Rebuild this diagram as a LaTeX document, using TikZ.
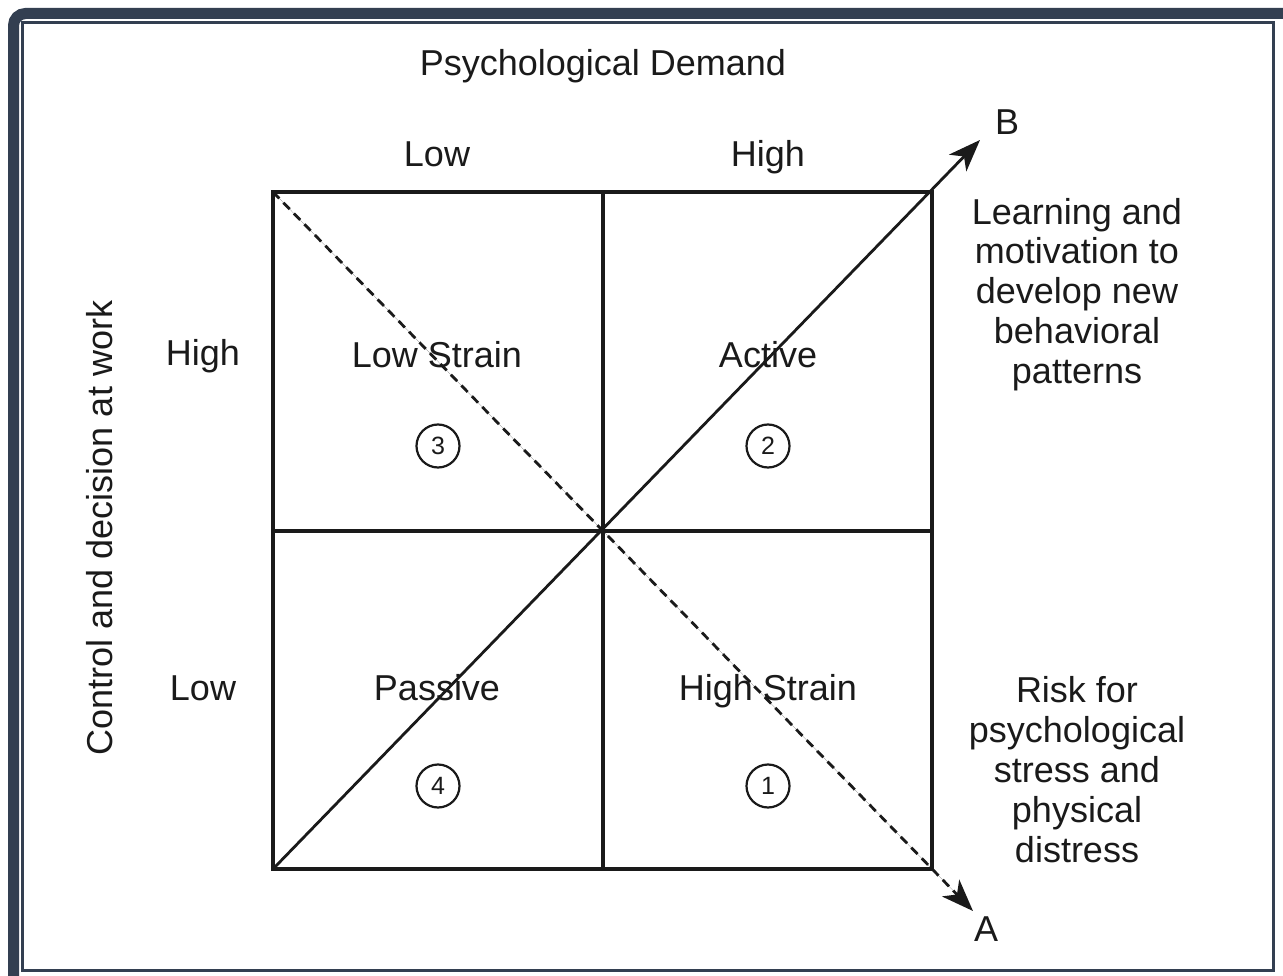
\documentclass[tikz,border=0pt]{standalone}
\usepackage{fontspec}
\setmainfont{Liberation Sans}
\usetikzlibrary{arrows.meta}
\definecolor{frame}{HTML}{333F51}
\definecolor{ink}{HTML}{1A1A1A}
\tikzset{
  lbl/.style={font=\fontsize{36}{40}\selectfont, inner sep=0pt, anchor=base, text=ink},
  side/.style={lbl, align=center},
  num/.style={circle, draw=ink, text=ink, line width=2.2pt, minimum size=43pt, inner sep=0pt, font=\fontsize{25}{25}\selectfont},
  grid/.style={draw=ink, line width=3.2pt},
  arr/.style={draw=ink, fill=ink, line width=2.8pt, -{Stealth[length=32pt,width=24pt,inset=9pt]}},
}
\begin{document}
\begin{tikzpicture}[x=1pt,y=-1pt]
\useasboundingbox (0,0) rectangle (1283,976);
\fill[white] (0,0) rectangle (1283,976);
% frame
\draw[frame, line width=11pt, rounded corners=12pt] (13.5,13.5) -- (1300,13.5) -- (1300,1000) -- (13.5,1000) -- cycle;
\draw[frame, line width=3pt] (22.5,22.5) rectangle (1273.5,970.5);
% grid corners
\coordinate (tl) at (273,192);
\coordinate (tr) at (932,192);
\coordinate (bl) at (273,869);
\coordinate (br) at (932,869);
\coordinate (tm) at (603,192);
\coordinate (bm) at (603,869);
\coordinate (lm) at (273,531);
\coordinate (rm) at (932,531);
\coordinate (B) at (980,140);
\coordinate (A) at (973,911);
\draw[grid, line join=miter] (tl) -- (tr) -- (br) -- (bl) -- cycle;
\draw[grid] (tm) -- (bm);
\draw[grid] (lm) -- (rm);
\draw[arr] (bl) -- (B);
\draw[arr, dash pattern=on 9pt off 6pt] (tl) -- (A);
% texts
\node[lbl] (pd) at (603,76) {Psychological Demand};
\node[lbl] (lowt) at (437,167) {Low};
\node[lbl] (hight) at (768,167) {High};
\node[lbl] (Bl) at (1007,135) {B};
\node[lbl] (Al) at (986,941) {A};
\node[lbl] (highl) at (203,366) {High};
\node[lbl] (lowl) at (203,700) {Low};
\node[lbl, rotate=90, anchor=center] (cd) at (100,528) {Control and decision at work};
\node[lbl] (ls) at (437,367) {Low Strain};
\node[lbl] (ac) at (768,367) {Active};
\node[lbl] (pa) at (437,700) {Passive};
\node[lbl] (hs) at (768,700) {High Strain};
\node[num] (n3) at (438,446) {3};
\node[num] (n2) at (768,446) {2};
\node[num] (n4) at (438,786) {4};
\node[num] (n1) at (768,786) {1};
\node[side] (learn) at (1077,384) {Learning and\\motivation to\\develop new\\behavioral\\patterns};
\node[side] (risk) at (1077,862) {Risk for\\psychological\\stress and\\physical\\distress};
\end{tikzpicture}
\end{document}
